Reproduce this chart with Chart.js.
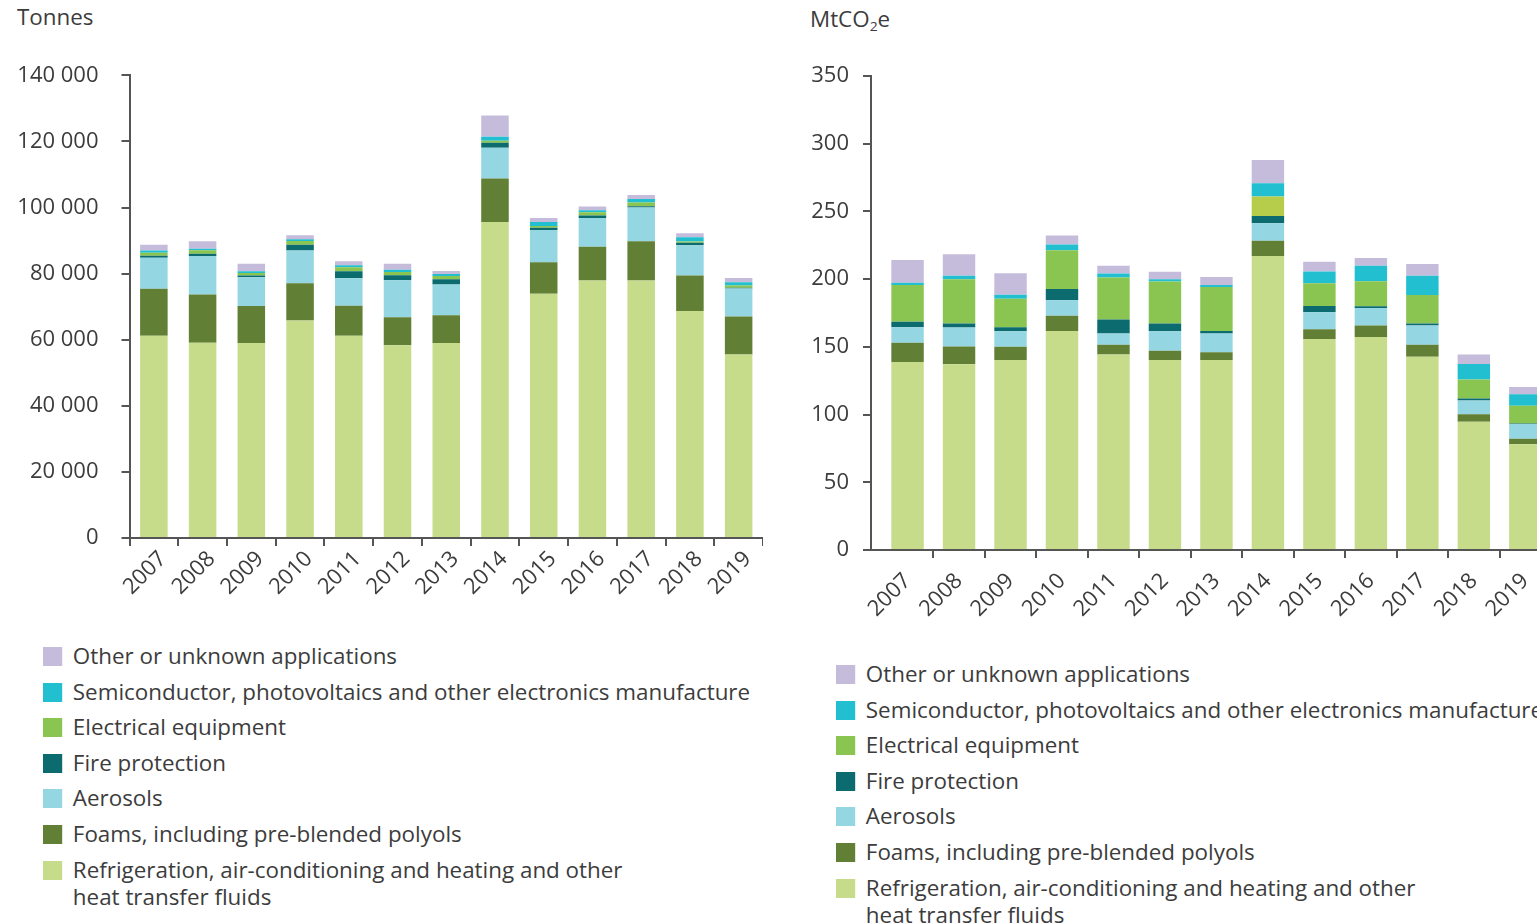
<!DOCTYPE html>
<html>
<head>
<meta charset="utf-8">
<script src="https://cdn.jsdelivr.net/npm/chart.js@4.4.1/dist/chart.umd.min.js"></script>
<style>
  html, body { margin: 0; padding: 0; background: #fff; overflow: hidden; }
  body { width: 1537px; height: 924px; position: relative; font-family: "Open Sans", sans-serif; color: #3c3c3c; }
  .box { position: absolute; }
  .unit { position: absolute; font-size: 21px; transform: scaleX(1.066); transform-origin: 0 0; }
  .unit sub { font-size: 13px; vertical-align: -4px; line-height: 0; }
  .legend { position: absolute; margin: 0; padding: 0; list-style: none; font-size: 21px; white-space: nowrap; transform: scaleX(1.066); transform-origin: 0 0; }
  .legend li { position: relative; padding-left: 28px; line-height: 27px; margin-bottom: 8.6px; white-space: pre-line; }
  .legend li span { position: absolute; left: 0; top: 4px; width: 18px; height: 19px; }
</style>
</head>
<body>
<div class="unit" style="left:17px; top:3px;">Tonnes</div>
<div class="unit" style="left:810px; top:5px;">MtCO<sub>2</sub>e</div>

<div class="box" style="left:0; top:0; width:763px; height:618px;"><canvas id="tonnes"></canvas></div>
<div class="box" style="left:760px; top:0; width:794px; height:630px;"><canvas id="co2"></canvas></div>

<ul class="legend" id="legendLeft" style="left:43px; top:643px;"></ul>
<ul class="legend" id="legendRight" style="left:836px; top:661px; width:720px;"></ul>

<script>
  const years = ['2007', '2008', '2009', '2010', '2011', '2012', '2013', '2014', '2015', '2016', '2017', '2018', '2019'];

  const seriesNames = [
    'Refrigeration, air-conditioning and heating and other\nheat transfer fluids',
    'Foams, including pre-blended polyols',
    'Aerosols',
    'Fire protection',
    'Electrical equipment',
    'Semiconductor, photovoltaics and other electronics manufacture',
    'Other or unknown applications'
  ];

  // Tonnes
  const refrigT = [61200, 59100, 59000, 65800, 61200, 58300, 59000, 95600, 73900, 77900, 77900, 68700, 55500];
  const foamsT = [14200, 14600, 11200, 11300, 9100, 8500, 8400, 13200, 9500, 10200, 11900, 10700, 11500];
  const aerosolsT = [9400, 11600, 8700, 9900, 8300, 11200, 9300, 9300, 9800, 8700, 10200, 9200, 8500];
  const fireT = [600, 700, 500, 1700, 2100, 1500, 1600, 1500, 700, 800, 400, 700, 200];
  const electricalT = [900, 1100, 800, 1200, 1200, 1000, 1000, 600, 500, 1000, 1100, 400, 700];
  const semiT = [700, 400, 500, 500, 600, 700, 600, 1200, 1200, 600, 1100, 1300, 1000];
  const otherT = [1700, 2300, 2300, 1200, 1200, 1800, 900, 6400, 1200, 1100, 1200, 1200, 1300];

  // MtCO2e
  const refrigC = [138.7, 137.2, 140.2, 161.6, 144.4, 140.2, 140.2, 217.0, 155.7, 157.2, 142.6, 94.6, 78.0];
  const foamsC = [14.3, 13.1, 9.8, 11.3, 7.1, 6.9, 5.7, 11.3, 7.2, 8.6, 8.9, 5.7, 4.2];
  const aerosolsC = [11.4, 14.0, 11.4, 11.4, 8.4, 14.3, 14.0, 12.9, 12.6, 12.8, 14.3, 10.1, 10.8];
  const fireC = [4.1, 3.0, 3.0, 8.3, 10.3, 5.9, 1.7, 5.4, 4.7, 1.3, 1.5, 1.5, 0.3];
  const electricalC = [27.1, 32.5, 21.1, 28.6, 31.0, 31.0, 32.5, 14.3, 16.8, 18.5, 20.9, 14.0, 13.1];
  const semiC = [1.7, 2.7, 3.0, 4.4, 3.0, 1.5, 1.5, 9.9, 8.6, 11.5, 14.3, 11.5, 8.6];
  const otherC = [16.8, 15.8, 15.8, 6.6, 5.6, 5.6, 5.9, 17.2, 7.2, 5.7, 8.6, 6.9, 5.4];

  const tonnesTicks = [0, 20000, 40000, 60000, 80000, 100000, 120000, 140000];
  const co2Ticks = [0, 50, 100, 150, 200, 250, 300, 350];

  const colors = ['#c6dc8b', '#617f35', '#94d7e3', '#0b6b6e', '#8bc551', '#21bfcf', '#c5bcdc'];
  const textColor = '#3c3c3c';
  const axisColor = '#555555';

  function spaced(v) {
    return String(v).replace(/\B(?=(\d{3})+(?!\d))/g, ' ');
  }

  function buildChart(id, series, ticksList, cfg) {
    const datasets = series.map((values, i) => {
      let bg = colors[i];
      if (i === 4 && cfg.electrical2014) {
        bg = values.map((v, j) => years[j] === '2014' ? cfg.electrical2014 : colors[i]);
      }
      return {
        label: seriesNames[i],
        data: values,
        backgroundColor: bg,
        borderWidth: 0,
        barPercentage: cfg.barPct,
        categoryPercentage: 1
      };
    });

    return new Chart(document.getElementById(id), {
      type: 'bar',
      data: { labels: years, datasets: datasets },
      options: {
        responsive: true,
        maintainAspectRatio: false,
        animation: false,
        layout: { padding: { top: cfg.top, right: 0, bottom: 0, left: 0 } },
        plugins: { legend: { display: false }, tooltip: { enabled: false } },
        scales: {
          x: {
            stacked: true,
            offset: true,
            afterBuildTicks: (axis) => {
              // leave a small gap between the y axis and the first bar
              if (cfg.gap) {
                axis.ticks = years.map((y, i) => ({ value: i }));
                axis._startValue = -0.5 - cfg.gap;
                axis._valueRange = years.length + cfg.gap;
              }
            },
            afterFit: (axis) => { axis.height = 80; },
            border: { color: axisColor, width: 2 },
            grid: {
              drawOnChartArea: false, drawTicks: true, tickLength: 8, lineWidth: 2, offset: true,
              color: (ctx) => (cfg.gap && ctx.index === 0) ? 'rgba(0,0,0,0)' : axisColor
            },
            ticks: { color: textColor, font: { family: 'Open Sans', size: 22 }, minRotation: 45, maxRotation: 45, padding: cfg.xPad, labelOffset: cfg.labelOffset, autoSkip: false }
          },
          y: {
            stacked: true,
            min: ticksList[0],
            max: ticksList[ticksList.length - 1],
            afterFit: (axis) => { axis.width = cfg.yWidth; },
            afterBuildTicks: (axis) => { axis.ticks = ticksList.map(v => ({ value: v })); },
            border: { color: axisColor, width: 2 },
            grid: { drawOnChartArea: false, drawTicks: true, tickLength: 8, color: axisColor, lineWidth: 2 },
            ticks: { color: textColor, font: { family: 'Open Sans', size: 22 }, padding: cfg.yPad, callback: (v) => spaced(v) }
          }
        }
      }
    });
  }

  const chartT = buildChart('tonnes', [refrigT, foamsT, aerosolsT, fireT, electricalT, semiT, otherT], tonnesTicks,
    { top: 75.3, yWidth: 129.5, yPad: 23, barPct: 0.565, xPad: 0, labelOffset: 9, gap: 0, electrical2014: null });
  const chartC = buildChart('co2', [refrigC, foamsC, aerosolsC, fireC, electricalC, semiC, otherC], co2Ticks,
    { top: 75.9, yWidth: 111, yPad: 14, barPct: 0.63, xPad: 10, labelOffset: 0, gap: 0.21, electrical2014: '#b5cd4a' });

  function fillLegend(chart, listId) {
    const ul = document.getElementById(listId);
    chart.data.datasets.slice().reverse().forEach((ds, k) => {
      const li = document.createElement('li');
      const sw = document.createElement('span');
      sw.style.background = colors[colors.length - 1 - k];
      li.appendChild(sw);
      li.appendChild(document.createTextNode(ds.label));
      ul.appendChild(li);
    });
  }
  fillLegend(chartT, 'legendLeft');
  fillLegend(chartC, 'legendRight');
</script>
</body>
</html>
